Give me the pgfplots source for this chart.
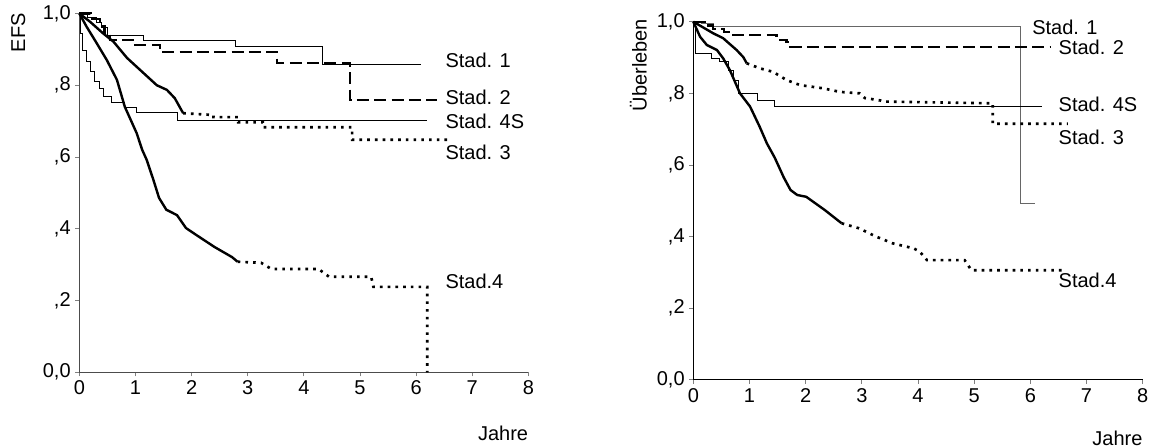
\documentclass[border=0pt]{standalone}
\usepackage{fontspec}
\setmainfont{Liberation Sans}
\usepackage{pgfplots}
\pgfplotsset{compat=1.18}
\newcommand\fs{\fontsize{15}{18}\selectfont}

\pgfplotsset{
  km/.style={
    scale only axis, anchor=south west,
    xmin=0, xmax=8, ymin=0, ymax=1,
    axis lines*=left, axis line style={-, line width=0.8pt},
    xtick={0,...,8}, xticklabels={0,1,2,3,4,5,6,7,8},
    ytick={0,0.2,0.4,0.6,0.8,1}, yticklabels={{0,0},{,2},{,4},{,6},{,8},{1,0}},
    tick align=outside, major tick length=3pt,
    tick style={line width=0.6pt},
    tick label style={font=\fs},
    clip=false,
  },
  thin/.style={line width=0.7pt, black},
  thk/.style={line width=1.8pt, black},
  dsh/.style={thk, dash pattern=on 9pt off 4pt},
  dot/.style={line width=2pt, black, dash pattern=on 2pt off 3.8pt},
}

\begin{document}
\begin{tikzpicture}
\path[use as bounding box] (0,0) rectangle (866.25pt,336pt);

% ---------- EFS ----------
\begin{axis}[km, at={(59.5pt,56.8pt)}, width=336.75pt, height=269.1pt,
  axis line style={-, line width=0.8pt, black!70}]
  % Stad. 1
  \addplot[thin] coordinates {(0,1)(0.15,1)(0.15,0.99)(0.3,0.99)(0.3,0.975)(0.4,0.975)(0.4,0.96)(0.5,0.96)(0.5,0.94)
    (1.14,0.94)(1.14,0.924)(2.78,0.924)(2.78,0.907)(4.34,0.907)(4.34,0.858)(6.09,0.858)};
  % Stad. 2
  \addplot[dsh] coordinates {(0,1)(0.2,1)(0.2,0.985)(0.37,0.985)(0.37,0.965)(0.45,0.965)(0.45,0.945)(0.55,0.945)(0.55,0.926)
    (1.0,0.926)(1.0,0.912)(1.44,0.912)(1.44,0.893)(3.52,0.893)(3.52,0.862)(4.82,0.862)(4.82,0.759)(6.38,0.759)};
  % Stad. 3
  \addplot[thk] coordinates {(0,1)(0.19,0.977)(0.42,0.945)(0.61,0.921)(0.85,0.876)(1.08,0.843)(1.38,0.80)(1.56,0.787)(1.70,0.764)(1.85,0.722)};
  \addplot[dot] coordinates {(1.85,0.722)(2.39,0.717)(2.39,0.711)(2.83,0.711)(2.83,0.697)(3.27,0.697)(3.27,0.683)(4.86,0.683)(4.86,0.648)(6.64,0.648)};
  % Stad. 4S
  \addplot[thin] coordinates {(0,1)(0.02,1)(0.02,0.945)(0.05,0.945)(0.05,0.898)(0.12,0.898)(0.12,0.865)(0.2,0.865)(0.2,0.837)
    (0.27,0.837)(0.27,0.81)(0.36,0.81)(0.36,0.792)(0.43,0.792)(0.43,0.768)(0.58,0.768)(0.58,0.753)(0.81,0.753)(0.81,0.739)
    (1.02,0.739)(1.02,0.723)(1.74,0.723)(1.74,0.703)(6.20,0.703)};
  % Stad. 4
  \addplot[thk] coordinates {(0,1)(0.13,0.963)(0.31,0.917)(0.49,0.87)(0.67,0.815)(0.81,0.74)(1.02,0.667)(1.12,0.62)(1.2,0.592)
    (1.32,0.536)(1.42,0.486)(1.55,0.453)(1.74,0.438)(1.90,0.402)(2.08,0.383)(2.41,0.349)(2.72,0.321)(2.82,0.308)};
  \addplot[dot] coordinates {(2.82,0.308)(3.24,0.305)(3.42,0.288)(4.26,0.288)(4.45,0.266)(5.20,0.266)(5.24,0.238)(6.20,0.238)(6.20,0)};

  \node[rotate=90, font=\fs] at (axis cs:-1.09,0.946) {EFS};
  \node[font=\fs] at (axis cs:7.55,-0.169) {Jahre};
  \node[anchor=west, inner sep=0pt, font=\fs] at (axis cs:6.52,0.870) {Stad. 1};
  \node[anchor=west, inner sep=0pt, font=\fs] at (axis cs:6.52,0.767) {Stad. 2};
  \node[anchor=west, inner sep=0pt, font=\fs] at (axis cs:6.52,0.698) {Stad. 4S};
  \node[anchor=west, inner sep=0pt, font=\fs] at (axis cs:6.52,0.614) {Stad. 3};
  \node[anchor=west, inner sep=0pt, font=\fs] at (axis cs:6.52,0.252) {Stad.4};
\end{axis}

% ---------- Ueberleben ----------
\begin{axis}[km, at={(520pt,51.2pt)}, width=337pt, height=268.5pt]
  % Stad. 1
  \addplot[thin, black!60] coordinates {(0,1)(0.15,1)(0.15,0.995)(0.35,0.995)(0.35,0.986)(5.83,0.986)(5.83,0.493)(6.09,0.493)};
  % Stad. 2
  \addplot[dsh] coordinates {(0,1)(0.2,1)(0.2,0.99)(0.35,0.99)(0.35,0.98)(0.55,0.98)(0.55,0.972)(0.68,0.972)(0.68,0.963)
    (1.48,0.963)(1.48,0.955)(1.54,0.955)(1.54,0.949)(1.66,0.949)(1.66,0.944)(1.72,0.944)(1.72,0.930)(6.35,0.930)};
  % Stad. 3
  \addplot[thk] coordinates {(0,1)(0.35,0.968)(0.53,0.954)(0.77,0.921)(0.89,0.901)(0.95,0.884)};
  \addplot[dot] coordinates {(0.95,0.884)(1.18,0.87)(1.42,0.86)(1.66,0.837)(1.90,0.823)(2.31,0.814)(2.61,0.804)(2.96,0.80)
    (3.05,0.787)(3.33,0.78)(3.38,0.777)(5.33,0.772)(5.33,0.715)(6.67,0.715)};
  % Stad. 4S
  \addplot[thin] coordinates {(0,1)(0.03,1)(0.03,0.912)(0.33,0.912)(0.33,0.898)(0.47,0.898)(0.47,0.888)(0.62,0.888)(0.62,0.865)
    (0.71,0.865)(0.71,0.837)(0.80,0.837)(0.80,0.80)(1.15,0.80)(1.15,0.781)(1.45,0.781)(1.45,0.763)(6.20,0.763)};
  % Stad. 4
  \addplot[thk] coordinates {(0,1)(0.12,0.958)(0.24,0.935)(0.42,0.921)(0.53,0.898)(0.65,0.865)(0.83,0.80)(1.01,0.763)(1.18,0.707)
    (1.31,0.66)(1.45,0.62)(1.61,0.565)(1.73,0.53)(1.85,0.516)(2.01,0.511)(2.09,0.502)(2.34,0.474)(2.64,0.437)};
  \addplot[dot] coordinates {(2.64,0.437)(2.95,0.423)(3.25,0.40)(3.55,0.381)(3.92,0.367)(4.03,0.358)(4.16,0.334)(4.83,0.334)
    (4.95,0.306)(6.56,0.306)};

  \node[rotate=90, font=\fs] at (axis cs:-0.98,0.879) {Überleben};
  \node[font=\fs] at (axis cs:7.55,-0.163) {Jahre};
  \node[anchor=west, inner sep=0pt, font=\fs] at (axis cs:6.03,0.985) {Stad. 1};
  \node[anchor=west, inner sep=0pt, font=\fs] at (axis cs:6.50,0.929) {Stad. 2};
  \node[anchor=west, inner sep=0pt, font=\fs] at (axis cs:6.50,0.770) {Stad. 4S};
  \node[anchor=west, inner sep=0pt, font=\fs] at (axis cs:6.50,0.677) {Stad. 3};
  \node[anchor=west, inner sep=0pt, font=\fs] at (axis cs:6.50,0.278) {Stad.4};
\end{axis}
\end{tikzpicture}
\end{document}
